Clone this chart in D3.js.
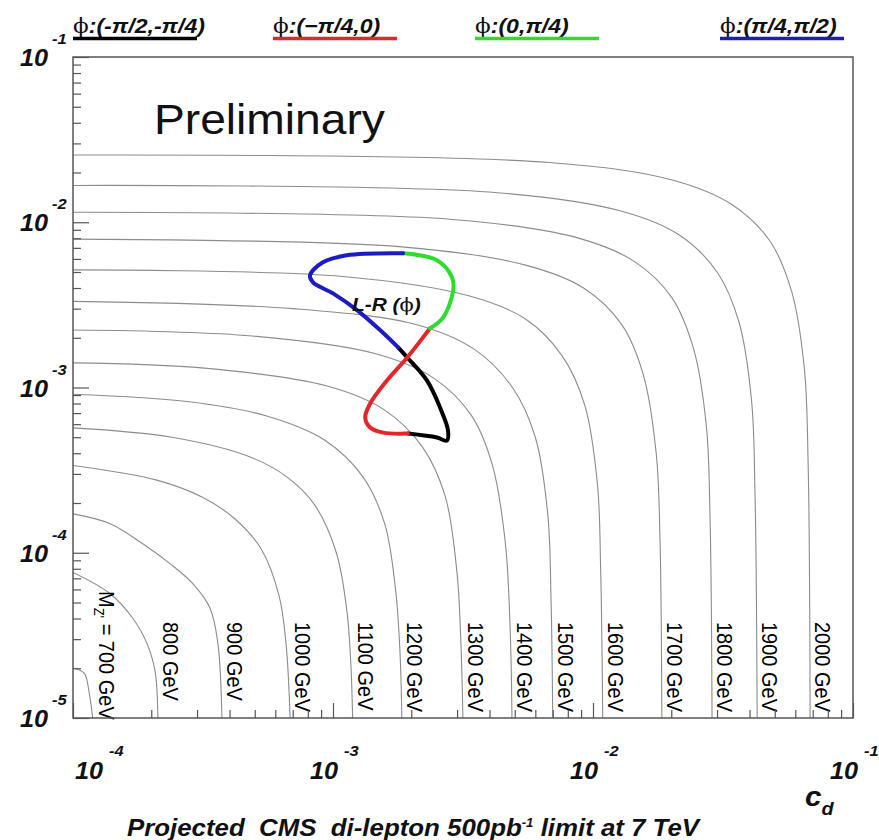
<!DOCTYPE html>
<html>
<head>
<meta charset="utf-8">
<script src="https://cdn.jsdelivr.net/npm/d3@7"></script>
<style>
  body { margin: 0; background: #fff; }
  svg text { font-family: "Liberation Sans", Arial, sans-serif; white-space: pre; }
</style>
</head>
<body>
<div id="svg-container"></div>
<script>
// ---- data ----
var masses = [700, 800, 900, 1000, 1100, 1200, 1300, 1400, 1500, 1600, 1700, 1800, 1900, 2000];

// contour points per mass, [c_d, c_u]
var contourPoints = [
  [[1e-4,2.0e-5],[1.06e-4,1.95e-5],[1.11e-4,1.85e-5],[1.16e-4,1.35e-5],[1.19e-4,1e-5]],
  [[1e-4,7.6e-5],[1.39e-4,5.65e-5],[1.70e-4,4.0e-5],[1.93e-4,2.8e-5],[2.07e-4,1.9e-5],[2.12e-4,1e-5]],
  [[1e-4,1.72e-4],[1.39e-4,1.5e-4],[1.86e-4,1.13e-4],[2.36e-4,8.6e-5],[2.89e-4,6.5e-5],[3.37e-4,4.6e-5],[3.61e-4,2.8e-5],[3.74e-4,1e-5]],
  [[1e-4,3.37e-4],[2.1e-4,2.75e-4],[3.16e-4,2.16e-4],[4.2e-4,1.6e-4],[5.3e-4,1.05e-4],[6.2e-4,5.5e-5],[6.6e-4,2.8e-5],[6.84e-4,1e-5]],
  [[1e-4,5.7e-4],[2.4e-4,5.0e-4],[4.8e-4,3.8e-4],[6.7e-4,2.85e-4],[8.5e-4,1.95e-4],[1.03e-3,1.0e-4],[1.13e-3,4.5e-5],[1.17e-3,2.2e-5],[1.19e-3,1e-5]],
  [[1e-4,9.1e-4],[2.8e-4,8.2e-4],[5.6e-4,6.7e-4],[9.3e-4,4.8e-4],[1.3e-3,2.9e-4],[1.58e-3,1.5e-4],[1.74e-3,6e-5],[1.81e-3,2.5e-5],[1.84e-3,1e-5]],
  [[1e-4,1.41e-3],[3.2e-4,1.31e-3],[9.5e-4,1.02e-3],[1.58e-3,7.3e-4],[2.2e-3,4.4e-4],[2.7e-3,2.2e-4],[3.0e-3,7.5e-5],[3.1e-3,3e-5],[3.16e-3,1e-5]],
  [[1e-4,2.23e-3],[4.9e-4,2.05e-3],[1.46e-3,1.6e-3],[2.44e-3,1.14e-3],[3.4e-3,6.8e-4],[4.1e-3,3.4e-4],[4.6e-3,1.15e-4],[4.8e-3,3.5e-5],[4.88e-3,1e-5]],
  [[1e-4,3.32e-3],[7e-4,3.0e-3],[2.1e-3,2.4e-3],[3.5e-3,1.7e-3],[4.9e-3,1.0e-3],[6.0e-3,5.0e-4],[6.7e-3,1.7e-4],[6.9e-3,5e-5],[7.0e-3,1e-5]],
  [[1e-4,5.15e-3],[1.09e-3,4.7e-3],[3.3e-3,3.6e-3],[5.5e-3,2.6e-3],[7.6e-3,1.56e-3],[9.3e-3,7.8e-4],[1.04e-2,2.6e-4],[1.07e-2,8e-5],[1.09e-2,1e-5]],
  [[1e-4,7.9e-3],[1.84e-3,7.1e-3],[5.5e-3,5.5e-3],[9.2e-3,4.0e-3],[1.29e-2,2.4e-3],[1.56e-2,1.2e-3],[1.75e-2,4e-4],[1.81e-2,1.2e-4],[1.84e-2,1e-5]],
  [[1e-4,1.15e-2],[2.87e-3,1.04e-2],[8.6e-3,8.1e-3],[1.44e-2,5.8e-3],[2.01e-2,3.5e-3],[2.44e-2,1.7e-3],[2.73e-2,5.8e-4],[2.82e-2,1.6e-4],[2.87e-2,1e-5]],
  [[1e-4,1.67e-2],[4.28e-3,1.51e-2],[1.28e-2,1.17e-2],[2.14e-2,8.4e-3],[3.0e-2,5.0e-3],[3.64e-2,2.5e-3],[4.07e-2,8.4e-4],[4.2e-2,2.2e-4],[4.28e-2,1e-5]],
  [[1e-4,2.55e-2],[6.8e-3,2.3e-2],[2.05e-2,1.79e-2],[3.42e-2,1.28e-2],[4.79e-2,7.7e-3],[5.81e-2,3.8e-3],[6.5e-2,1.3e-3],[6.72e-2,3.5e-4],[6.84e-2,1e-5]]
];

// L-R (phi) curve, one piece per phi range, [c_d, c_u]
var lrBlack = [[1.78e-3,1.75e-3],[1.93e-3,1.52e-3],[2.30e-3,1.10e-3],[2.58e-3,7.57e-4],[2.77e-3,5.48e-4],[2.74e-3,4.77e-4],[2.51e-3,4.98e-4],[1.94e-3,5.26e-4]];
var lrRed   = [[1.94e-3,5.26e-4],[1.56e-3,5.33e-4],[1.39e-3,5.73e-4],[1.33e-3,6.58e-4],[1.39e-3,8.0e-4],[1.61e-3,1.10e-3],[1.93e-3,1.52e-3],[2.36e-3,2.28e-3]];
var lrGreen = [[2.36e-3,2.28e-3],[2.65e-3,2.65e-3],[2.90e-3,3.87e-3],[2.87e-3,4.64e-3],[2.51e-3,5.89e-3],[1.86e-3,6.49e-3]];
var lrBlue  = [[1.86e-3,6.49e-3],[1.13e-3,6.31e-3],[9.15e-4,5.72e-3],[8.16e-4,4.78e-3],[8.38e-4,4.33e-3],[1.0e-3,3.71e-3],[1.24e-3,2.93e-3],[1.52e-3,2.22e-3],[1.78e-3,1.75e-3]];

var legendLabels = ["\u03d5:(-\u03c0/2,-\u03c0/4)", "\u03d5:(\u2212\u03c0/4,0)", "\u03d5:(0,\u03c0/4)", "\u03d5:(\u03c0/4,\u03c0/2)"];
var legendColors = ["#000000", "#e3262b", "#2edc2e", "#1c1cc4"];

var xTickExps = [-4, -3, -2, -1];
var yTickExps = [-5, -4, -3, -2, -1];

// ---- layout ----
var W = 879, H = 840;
var plotL = 73, plotR = 853, plotT = 57, plotB = 718;
var sx = 1.1; // the reference is a bit wider than tall

var svg = d3.select("#svg-container").append("svg")
  .attr("width", W).attr("height", H);

var x = d3.scaleLog().domain([1e-4, 1e-1]).range([plotL, plotR]);
var y = d3.scaleLog().domain([1e-5, 1e-1]).range([plotB, plotT]);

function stretchedText(g, px, py, str, size, opts) {
  opts = opts || {};
  var t = g.append("text")
    .attr("transform", "translate(" + px + "," + py + ") scale(" + sx + ",1)" + (opts.rotate ? " rotate(" + opts.rotate + ")" : ""))
    .attr("font-size", size)
    .attr("text-anchor", opts.anchor || "start")
    .attr("font-weight", opts.weight || "normal")
    .attr("font-style", opts.style || "normal")
    .attr("fill", opts.fill || "#111")
    .text(str);
  return t;
}

svg.append("clipPath").attr("id", "plotclip")
  .append("rect").attr("x", plotL).attr("y", plotT)
  .attr("width", plotR - plotL).attr("height", plotB - plotT);

// ---- contours ----
var contourLine = d3.line()
  .x(function(d){ return x(d[0]); })
  .y(function(d){ return y(d[1]); })
  .curve(d3.curveCatmullRom.alpha(0.5));

var cg = svg.append("g").attr("clip-path", "url(#plotclip)");
cg.selectAll("path.contour")
  .data(contourPoints)
  .enter().append("path")
  .attr("class", "contour")
  .attr("d", contourLine)
  .attr("fill", "none")
  .attr("stroke", "#8c8c8c")
  .attr("stroke-width", 1.1);

// contour labels, rotated, just right of each contour foot
var lg = svg.append("g");
masses.forEach(function(m, i) {
  var pts = contourPoints[i];
  var foot = pts[pts.length - 1];
  var lx = x(foot[0]) + 5;
  if (i === 0) {
    var t = stretchedText(lg, lx + 1, 591, "", 20, {rotate: 90, fill: "#000"});
    t.append("tspan").text("M");
    t.append("tspan").attr("font-size", 13).attr("dy", 4).text("Z'");
    t.append("tspan").attr("dy", -4).text(" = 700 GeV");
  } else {
    stretchedText(lg, lx, 622, m + " GeV", 20, {rotate: 90, fill: "#000"});
  }
});

// ---- axes (ticks drawn inward) ----
function isDecade(v) { return Math.abs(Math.log10(v) - Math.round(Math.log10(v))) < 1e-6; }
var xMinor = x.ticks().filter(function(v){ return !isDecade(v); });
var yMinor = y.ticks().filter(function(v){ return !isDecade(v); });
var xMajor = xTickExps.map(function(e){ return Math.pow(10, e); });
var yMajor = yTickExps.map(function(e){ return Math.pow(10, e); });

function styleAxis(g) {
  g.select(".domain").remove();
  g.selectAll("line").attr("stroke", "#555").attr("stroke-width", 1.2);
}
svg.append("g").attr("transform", "translate(0," + plotB + ")")
  .call(d3.axisBottom(x).tickValues(xMajor).tickSize(-15).tickFormat("")).call(styleAxis);
svg.append("g").attr("transform", "translate(0," + plotB + ")")
  .call(d3.axisBottom(x).tickValues(xMinor).tickSize(-8).tickFormat("")).call(styleAxis);
svg.append("g").attr("transform", "translate(" + plotL + ",0)")
  .call(d3.axisLeft(y).tickValues(yMajor).tickSize(-16).tickFormat("")).call(styleAxis);
svg.append("g").attr("transform", "translate(" + plotL + ",0)")
  .call(d3.axisLeft(y).tickValues(yMinor).tickSize(-8).tickFormat("")).call(styleAxis);

svg.append("rect")
  .attr("x", plotL).attr("y", plotT)
  .attr("width", plotR - plotL).attr("height", plotB - plotT)
  .attr("fill", "none").attr("stroke", "#555").attr("stroke-width", 1.5);

// tick labels: 10 with a raised exponent
var tl = svg.append("g");
xTickExps.forEach(function(e, i) {
  var px = x(Math.pow(10, e)) + (i === 0 ? 25 : 0);
  stretchedText(tl, px + 5, 779, "10", 23, {anchor: "end", weight: "bold", style: "italic"});
  stretchedText(tl, px + 11, 756, String(e), 15, {weight: "bold", style: "italic"});
});
yTickExps.forEach(function(e) {
  var py = y(Math.pow(10, e));
  stretchedText(tl, 48, py + 9, "10", 23, {anchor: "end", weight: "bold", style: "italic"});
  stretchedText(tl, 52, py - 13, String(e), 15, {weight: "bold", style: "italic"});
});

// ---- L-R(phi) curve ----
var lrLine = d3.line()
  .x(function(d){ return x(d[0]); })
  .y(function(d){ return y(d[1]); })
  .curve(d3.curveCatmullRom.alpha(0.5));
var lrPieces = [lrBlack, lrRed, lrGreen, lrBlue];
svg.append("g").selectAll("path")
  .data(lrPieces)
  .enter().append("path")
  .attr("d", lrLine)
  .attr("fill", "none")
  .attr("stroke", function(d, i){ return legendColors[i]; })
  .attr("stroke-width", 4)
  .attr("stroke-linecap", "round");

var lrText = stretchedText(svg, 352, 311, "", 19, {weight: "bold", style: "italic"});
lrText.append("tspan").text("L-R (");
lrText.append("tspan").attr("font-style", "normal").attr("font-weight", "normal").attr("font-family", "DejaVu Serif").text("\u03d5");
lrText.append("tspan").text(")");

// ---- legend across the top ----
var legendX = [73, 273, 475, 720];
var lgd = svg.append("g");
legendLabels.forEach(function(lab, i) {
  var t = stretchedText(lgd, legendX[i], 33, "", 21, {weight: "bold", style: "italic"});
  t.append("tspan").attr("font-style", "normal").attr("font-weight", "normal").attr("font-family", "DejaVu Serif").text(lab.charAt(0));
  t.append("tspan").text(lab.slice(1));
  lgd.append("line")
    .attr("x1", legendX[i]).attr("x2", legendX[i] + 124)
    .attr("y1", 38.5).attr("y2", 38.5)
    .attr("stroke", legendColors[i]).attr("stroke-width", 3.5);
});

// ---- titles ----
stretchedText(svg, 154, 134, "Preliminary", 42, {});

var cd = stretchedText(svg, 805, 806, "", 27, {weight: "bold", style: "italic"});
cd.append("tspan").text("c");
cd.append("tspan").attr("font-size", 18).attr("dy", 9).text("d");

var ttl = stretchedText(svg, 413, 836, "", 23.5, {anchor: "middle", weight: "bold", style: "italic"});
ttl.append("tspan").text("Projected  CMS  di-lepton 500pb");
ttl.append("tspan").attr("font-size", 12).attr("dy", -9).text("-1");
ttl.append("tspan").attr("dy", 9).text(" limit at 7 TeV");
</script>
</body>
</html>
